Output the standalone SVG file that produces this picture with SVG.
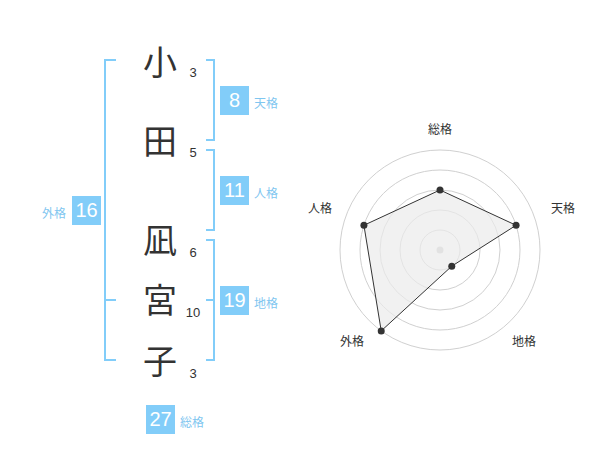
<svg xmlns="http://www.w3.org/2000/svg" width="600" height="470" viewBox="0 0 600 470">
<style>
.k{font-family:"Noto Sans CJK JP","Noto Sans CJK SC",sans-serif;font-size:34px;fill:#333;text-anchor:middle}
.n{font-family:"Liberation Sans",Arial,sans-serif;font-size:13px;fill:#333;text-anchor:middle}
.b{fill:#82cdf9}
.bn{font-family:"Liberation Sans",Arial,sans-serif;font-size:20px;fill:#fff;text-anchor:middle}
.bl{font-family:"Noto Sans CJK JP","Noto Sans CJK SC",sans-serif;font-size:12px;fill:#7fc6f0}
.br{fill:none;stroke:#82cdf9;stroke-width:2}
.ring{fill:none;stroke:#d0d0d0;stroke-width:1}
.rl{font-family:"Noto Sans CJK JP","Noto Sans CJK SC",sans-serif;font-size:12px;fill:#333;text-anchor:middle}
.pt{fill:#333}
</style>
<rect width="600" height="470" fill="#fff"/>
<g id="brackets">
<path class="br" d="M116,60 H105 V360 H116 M105,300 H116"/>
<path class="br" d="M206,60 H214 V140 H206"/>
<path class="br" d="M206,150 H214 V230 H206"/>
<path class="br" d="M206,240 H214 V360 H206 M206,300 H214"/>
</g>
<g id="chars">
<text class="k" x="160" y="75">小</text>
<text class="n" x="193" y="77">3</text>
<text class="k" x="160" y="154">田</text>
<text class="n" x="193" y="157">5</text>
<text class="k" x="160" y="253">凪</text>
<text class="n" x="193" y="257">6</text>
<text class="k" x="160" y="313">宮</text>
<text class="n" x="193" y="317">10</text>
<text class="k" x="160" y="374">子</text>
<text class="n" x="193" y="378">3</text>
</g>
<g id="tenkaku">
<rect class="b" x="220" y="86" width="29" height="29"/>
<text class="bn" x="234.5" y="107">8</text>
<text class="bl" x="254" y="108">天格</text>
</g>
<g id="jinkaku">
<rect class="b" x="220" y="176" width="29" height="29"/>
<text class="bn" x="234.5" y="197">11</text>
<text class="bl" x="254" y="198">人格</text>
</g>
<g id="chikaku">
<rect class="b" x="220" y="286" width="29" height="29"/>
<text class="bn" x="234.5" y="307">19</text>
<text class="bl" x="254" y="308">地格</text>
</g>
<g id="gaikaku">
<rect class="b" x="72" y="196" width="29" height="29"/>
<text class="bn" x="86.5" y="217">16</text>
<text class="bl" x="66" y="218" text-anchor="end">外格</text>
</g>
<g id="soukaku">
<rect class="b" x="146" y="405" width="29" height="29"/>
<text class="bn" x="160.5" y="426">27</text>
<text class="bl" x="180" y="427">総格</text>
</g>
<g id="radar">
<circle class="ring" cx="440" cy="250" r="20"/>
<circle class="ring" cx="440" cy="250" r="40"/>
<circle class="ring" cx="440" cy="250" r="60"/>
<circle class="ring" cx="440" cy="250" r="80"/>
<circle class="ring" cx="440" cy="250" r="100"/>
<circle cx="440" cy="250" r="3.5" fill="#ccc"/>
<polygon points="440,190 516.08,225.28 451.76,266.18 381.22,330.9 363.92,225.28" fill="#ebebeb" fill-opacity="0.7" stroke="#333" stroke-width="1"/>
<circle class="pt" cx="440" cy="190" r="3.5"/>
<circle class="pt" cx="516.08" cy="225.28" r="3.5"/>
<circle class="pt" cx="451.76" cy="266.18" r="3.5"/>
<circle class="pt" cx="381.22" cy="330.9" r="3.5"/>
<circle class="pt" cx="363.92" cy="225.28" r="3.5"/>
<text class="rl" x="440" y="134">総格</text>
<text class="rl" x="563" y="213">天格</text>
<text class="rl" x="524" y="346">地格</text>
<text class="rl" x="352" y="346">外格</text>
<text class="rl" x="320" y="213">人格</text>
</g>
</svg>
